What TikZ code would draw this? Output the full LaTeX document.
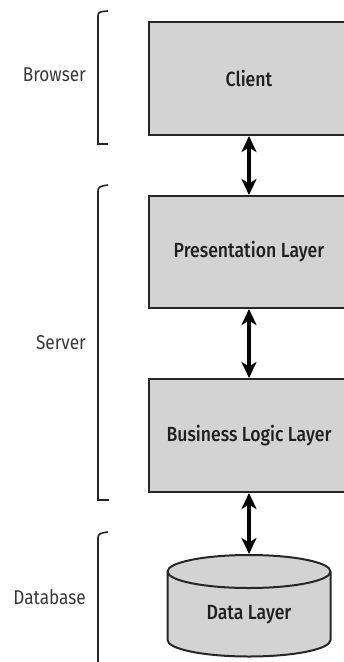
\documentclass[tikz,border=0pt]{standalone}
\usepackage{fontspec}
\setmainfont{Fira Sans}[FakeStretch=0.86]
\newfontfamily\medfont{Fira Sans Medium}[FakeStretch=0.86]
\usetikzlibrary{arrows.meta}
\definecolor{boxfill}{HTML}{D3D3D3}
\definecolor{edge}{HTML}{262626}
\definecolor{lbl}{HTML}{383838}
\begin{document}
\begin{tikzpicture}[x=1pt,y=-1pt,
  layer/.style={draw=edge, line width=2pt, fill=boxfill, minimum width=200pt,
    minimum height=113pt, inner sep=0pt, font=\medfont\fontsize{20.5}{24}\selectfont, text=black!88},
  grouplabel/.style={anchor=east, inner sep=0pt, font=\fontsize{20}{24}\selectfont, text=lbl},
  bracketline/.style={draw=edge, line width=1.6pt},
  link/.style={draw=black, line width=3.2pt,
    {Stealth[length=16pt,width=15pt,inset=4.5pt]}-{Stealth[length=16pt,width=15pt,inset=4.5pt]}}]
\useasboundingbox (0,0) rectangle (344,662);
% boxes
\node[layer] (client) at (249,78.5) {Client};
\node[layer, minimum height=112pt] (pres) at (249,252) {Presentation Layer};
\node[layer] (logic) at (249,435.5) {Business Logic Layer};
% cylinder
\draw[draw=edge, line width=2pt, fill=boxfill]
  (167.5,571.5) -- (167.5,640)
  arc[start angle=180, end angle=360, x radius=81.5pt, y radius=16.5pt]
  -- (330.5,571.5)
  arc[start angle=0, end angle=180, x radius=81.5pt, y radius=16.5pt] -- cycle;
\draw[draw=edge, line width=2pt]
  (167.5,571.5) arc[start angle=180, end angle=360, x radius=81.5pt, y radius=16.5pt];
\coordinate (dbtop) at (249,554);
\node[inner sep=0pt, font=\medfont\fontsize{20.5}{24}\selectfont, text=black!88] (data) at (249,615) {Data Layer};
% connectors
\draw[link] (client.south) -- (pres.north);
\draw[link] (pres.south) -- (logic.north);
\draw[link] (logic.south) -- (dbtop);
% brackets
\coordinate (b1t) at (108,11);
\coordinate (b1b) at (108,144);
\coordinate (b2t) at (108,185);
\coordinate (b2b) at (109,500);
\coordinate (b3t) at (108,532);
\coordinate (b3b) at (98,670);
\draw[bracketline] (b1t) .. controls (100,11.5) and (98,12) .. (98,16) |- (b1b);
\draw[bracketline] (b2t) .. controls (100,186) and (98,187) .. (98,191) |- (b2b);
\draw[bracketline] (b3t) .. controls (100,533) and (98,534) .. (98,538) -- (b3b);
% group labels
\node[grouplabel] (browser) at (86,75) {Browser};
\node[grouplabel] (server) at (86,343) {Server};
\node[grouplabel] (database) at (86,597) {Database};
\end{tikzpicture}
\end{document}
